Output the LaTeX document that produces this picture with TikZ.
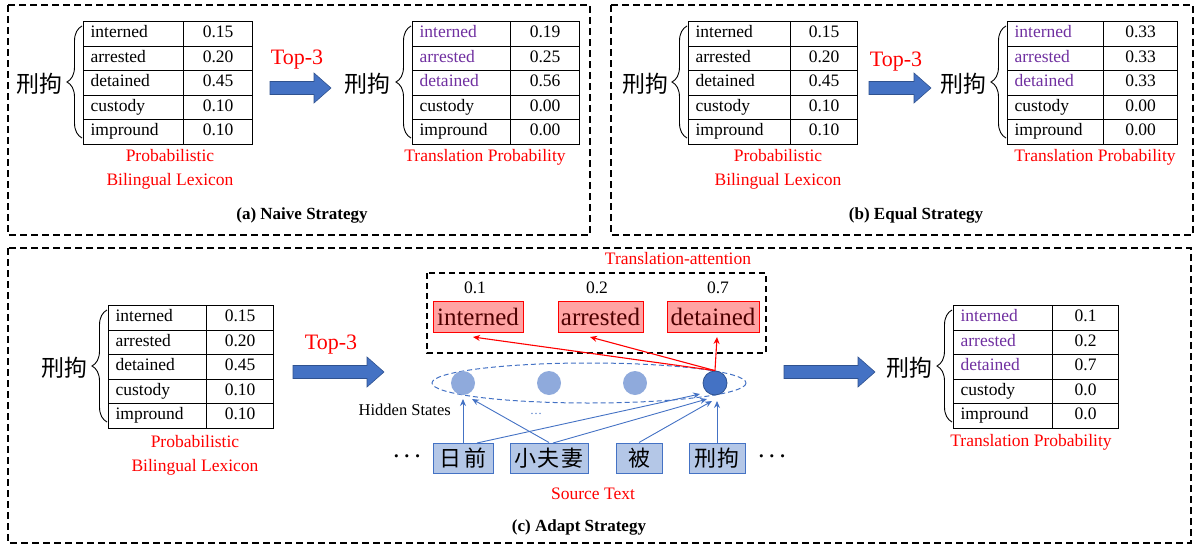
\documentclass[tikz,border=0pt]{standalone}
\usepackage{fontspec}
\setmainfont{Liberation Serif}
\newfontfamily\cjk{Noto Sans CJK SC}
\usetikzlibrary{shapes.arrows,shapes.geometric,decorations.pathreplacing,arrows.meta}
\definecolor{myblue}{HTML}{4472C4}
\definecolor{darkblue}{HTML}{2F528F}
\definecolor{lightblue}{HTML}{8FAADC}
\definecolor{boxblue}{HTML}{B4C7E7}
\definecolor{purp}{HTML}{7030A0}
\definecolor{pinkf}{HTML}{FFA3A3}
\definecolor{darkred}{HTML}{4D0000}
\newcommand\tfont{\fontsize{17.5}{24}\selectfont}
\tikzset{
 panel/.style={draw, line width=1.5pt, dash pattern=on 7pt off 4pt},
 cellw/.style={draw, line width=1.2pt, anchor=north west, minimum height=24.5pt, inner xsep=7pt, inner ysep=0pt, align=left, font=\tfont, text height=12pt, text depth=4pt},
 cellv/.style={draw, line width=1.2pt, anchor=north west, minimum height=24.5pt, inner sep=0pt, align=center, font=\tfont, text height=12pt, text depth=4pt},
 zh/.style={font=\cjk\fontsize{23}{23}\selectfont, inner sep=0pt},
 redlbl/.style={text=red, font=\tfont, align=center, inner sep=0pt},
 topthree/.style={text=red, font=\fontsize{22}{24}\selectfont, inner sep=0pt},
 caption/.style={font=\fontsize{17}{20}\selectfont\bfseries, inner sep=0pt},
 bigarrow/.style={fill=myblue, draw=darkblue, line width=0.6pt, line join=miter},
 lbrace/.style={decorate, decoration={brace, amplitude=15pt}, line width=0.9pt},
 attbox/.style={draw=red, fill=pinkf, line width=1pt, inner sep=0pt, minimum height=31pt, text=darkred, font=\fontsize{25}{25}\selectfont},
 num/.style={font=\tfont, inner sep=0pt},
 hid/.style={circle, minimum size=24pt, inner sep=0pt, fill=lightblue},
 src/.style={draw=myblue, fill=boxblue, line width=1pt, minimum height=30pt, inner sep=0pt, font=\cjk\fontsize{22}{22}\selectfont},
 barr/.style={draw=myblue, line width=0.9pt, -{Stealth[length=7pt,width=6pt]}},
 rarr/.style={draw=red, line width=1.1pt, -{Stealth[length=7pt,width=6pt]}},
 dots/.style={font=\fontsize{22}{22}\selectfont\boldmath, inner sep=0pt},
}
\newcommand\lexTable[6]{%
  \pgfmathsetmacro\lwA{#3-#2}%
  \pgfmathsetmacro\lwT{#3-#2-14}%
  \pgfmathsetmacro\lwB{#4-#3}%
  \foreach[count=\i] \w/\v/\c in {#6}{%
    \pgfmathsetmacro\yt{#5+(\i-1)*24.5}%
    \node[cellw, minimum width=\lwA pt, text width=\lwT pt, text=\c] (#1w\i) at (#2,\yt) {\w};
    \node[cellv, minimum width=\lwB pt] (#1v\i) at (#3,\yt) {\v};
  }%
}
% block arrow: #1 x start, #2 x end, #3 y centre
\newcommand\bigArrow[3]{%
  \pgfmathsetmacro\bah{#2-17}%
  \draw[bigarrow] (#1,#3-6.5) -- (\bah,#3-6.5) -- (\bah,#3-15) -- (#2,#3) -- (\bah,#3+15) -- (\bah,#3+6.5) -- (#1,#3+6.5) -- cycle;
}
\begin{document}
\begin{tikzpicture}[x=1pt,y=-1pt]
\useasboundingbox (0,0) rectangle (1197,546);
% panels
\draw[panel] (8,5) rectangle (590,235);
\draw[panel] (611,5) rectangle (1193,235);
\draw[panel] (8,248) rectangle (1191,543);

% ===== (a) =====
\lexTable{a1}{83}{183}{252}{21}{interned/0.15/black, arrested/0.20/black, detained/0.45/black, custody/0.10/black, impround/0.10/black}
\lexTable{a2}{412}{510}{579}{21}{interned/0.19/purp, arrested/0.25/purp, detained/0.56/purp, custody/0.00/black, impround/0.00/black}
\draw[lbrace] (82,138) -- (82,26);
\draw[lbrace] (411,138) -- (411,26);
\node[zh, anchor=east] (aza) at (63,84) {刑拘};
\node[zh, anchor=east] (azb) at (391,84) {刑拘};
\node[topthree] (atop) at (297,60) {Top-3};
\bigArrow{270}{331}{88}
\node[redlbl] (alex) at (170,169) {Probabilistic\\Bilingual Lexicon};
\node[redlbl] (atp) at (485,157) {Translation Probability};
\node[caption] (acap) at (302,215) {(a) Naive Strategy};

% ===== (b) =====
\lexTable{b1}{688}{790}{857}{21}{interned/0.15/black, arrested/0.20/black, detained/0.45/black, custody/0.10/black, impround/0.10/black}
\lexTable{b2}{1007}{1103}{1177}{21}{interned/0.33/purp, arrested/0.33/purp, detained/0.33/purp, custody/0.00/black, impround/0.00/black}
\draw[lbrace] (687,138) -- (687,26);
\draw[lbrace] (1006,138) -- (1006,26);
\node[zh, anchor=east] (bza) at (669,84) {刑拘};
\node[zh, anchor=east] (bzb) at (987,84) {刑拘};
\node[topthree] (btop) at (896,62) {Top-3};
\bigArrow{869}{931}{88}
\node[redlbl] (blex) at (778,169) {Probabilistic\\Bilingual Lexicon};
\node[redlbl] (btp) at (1095,157) {Translation Probability};
\node[caption] (bcap) at (916,215) {(b) Equal Strategy};

% ===== (c) =====
\lexTable{c1}{108}{206}{273}{305}{interned/0.15/black, arrested/0.20/black, detained/0.45/black, custody/0.10/black, impround/0.10/black}
\lexTable{c2}{953}{1052}{1118}{305}{interned/0.1/purp, arrested/0.2/purp, detained/0.7/purp, custody/0.0/black, impround/0.0/black}
\draw[lbrace] (107,422) -- (107,310);
\draw[lbrace] (952,422) -- (952,310);
\node[zh, anchor=east] (cza) at (88,368) {刑拘};
\node[zh, anchor=east] (czb) at (933,368) {刑拘};
\node[topthree] (ctop) at (331,345) {Top-3};
\bigArrow{293}{384}{372}
\bigArrow{784}{875}{372}
\node[redlbl] (clex) at (195,455) {Probabilistic\\Bilingual Lexicon};
\node[redlbl] (ctp) at (1031,442) {Translation Probability};
\node[caption] (ccap) at (579,527) {(c) Adapt Strategy};

% translation attention
\node[redlbl] (tatt) at (678,259) {Translation-attention};
\draw[panel, line width=1.3pt, dash pattern=on 6pt off 4pt] (427,273) rectangle (766,353);
\node[num] (n1) at (475,288) {0.1};
\node[num] (n2) at (597,288) {0.2};
\node[num] (n3) at (718,288) {0.7};
\node[attbox, minimum width=90pt] (t1) at (478,316.5) {interned};
\node[attbox, minimum width=85pt] (t2) at (600.5,316.5) {arrested};
\node[attbox, minimum width=92pt] (t3) at (713,316.5) {detained};

% hidden states
\draw[myblue, line width=1pt, dash pattern=on 5pt off 3pt] (589,383) ellipse [x radius=157, y radius=20];
\node[hid] (h1) at (463,383) {};
\node[hid] (h2) at (549,383) {};
\node[hid] (h3) at (635,383) {};
\node[hid, fill=myblue, draw=darkblue, line width=0.8pt] (h4) at (715,383) {};
\node[font=\fontsize{16.5}{18}\selectfont, anchor=east, inner sep=0pt] (hs) at (451,410) {Hidden States};
\node[font=\fontsize{12}{12}\selectfont, text=myblue, inner sep=0pt] (hd) at (536,414) {…};

% source text
\node[src, minimum width=60pt] (s1) at (463,458) {日\hspace{3pt}前};
\node[src, minimum width=78pt] (s2) at (549,458) {小\hspace{2pt}夫\hspace{2pt}妻};
\node[src, minimum width=46pt] (s3) at (639,458) {被};
\node[src, minimum width=56pt] (s4) at (717,458) {刑\hspace{2pt}拘};
\node[dots] (dl) at (407,457) {$\cdots$};
\node[dots] (dr) at (772,457) {$\cdots$};
\node[redlbl] (stxt) at (593,494) {Source Text};

% blue connectors
\coordinate (e1) at (463,399);
\coordinate (e1b) at (472,399);
\coordinate (e4a) at (700,394);
\coordinate (e4b) at (707,399);
\coordinate (e4c) at (712,401);
\coordinate (e4d) at (717,401);
\coordinate (s1b) at (477,443);
\coordinate (s2b) at (553,443);
\draw[barr] (s1.north) -- (e1);
\draw[barr] (s1b) -- (e4a);
\draw[barr] (s2.north) -- (e1b);
\draw[barr] (s2b) -- (e4b);
\draw[barr] (s3.north) -- (e4c);
\draw[barr] (s4.north) -- (e4d);

% red connectors
\coordinate (r1) at (473,337);
\coordinate (r2) at (590,337);
\coordinate (r3) at (717,337);
\draw[rarr] (h4.north) -- (r1);
\draw[rarr] (h4.north) -- (r2);
\draw[rarr] (h4.north) -- (r3);
\end{tikzpicture}
\end{document}
